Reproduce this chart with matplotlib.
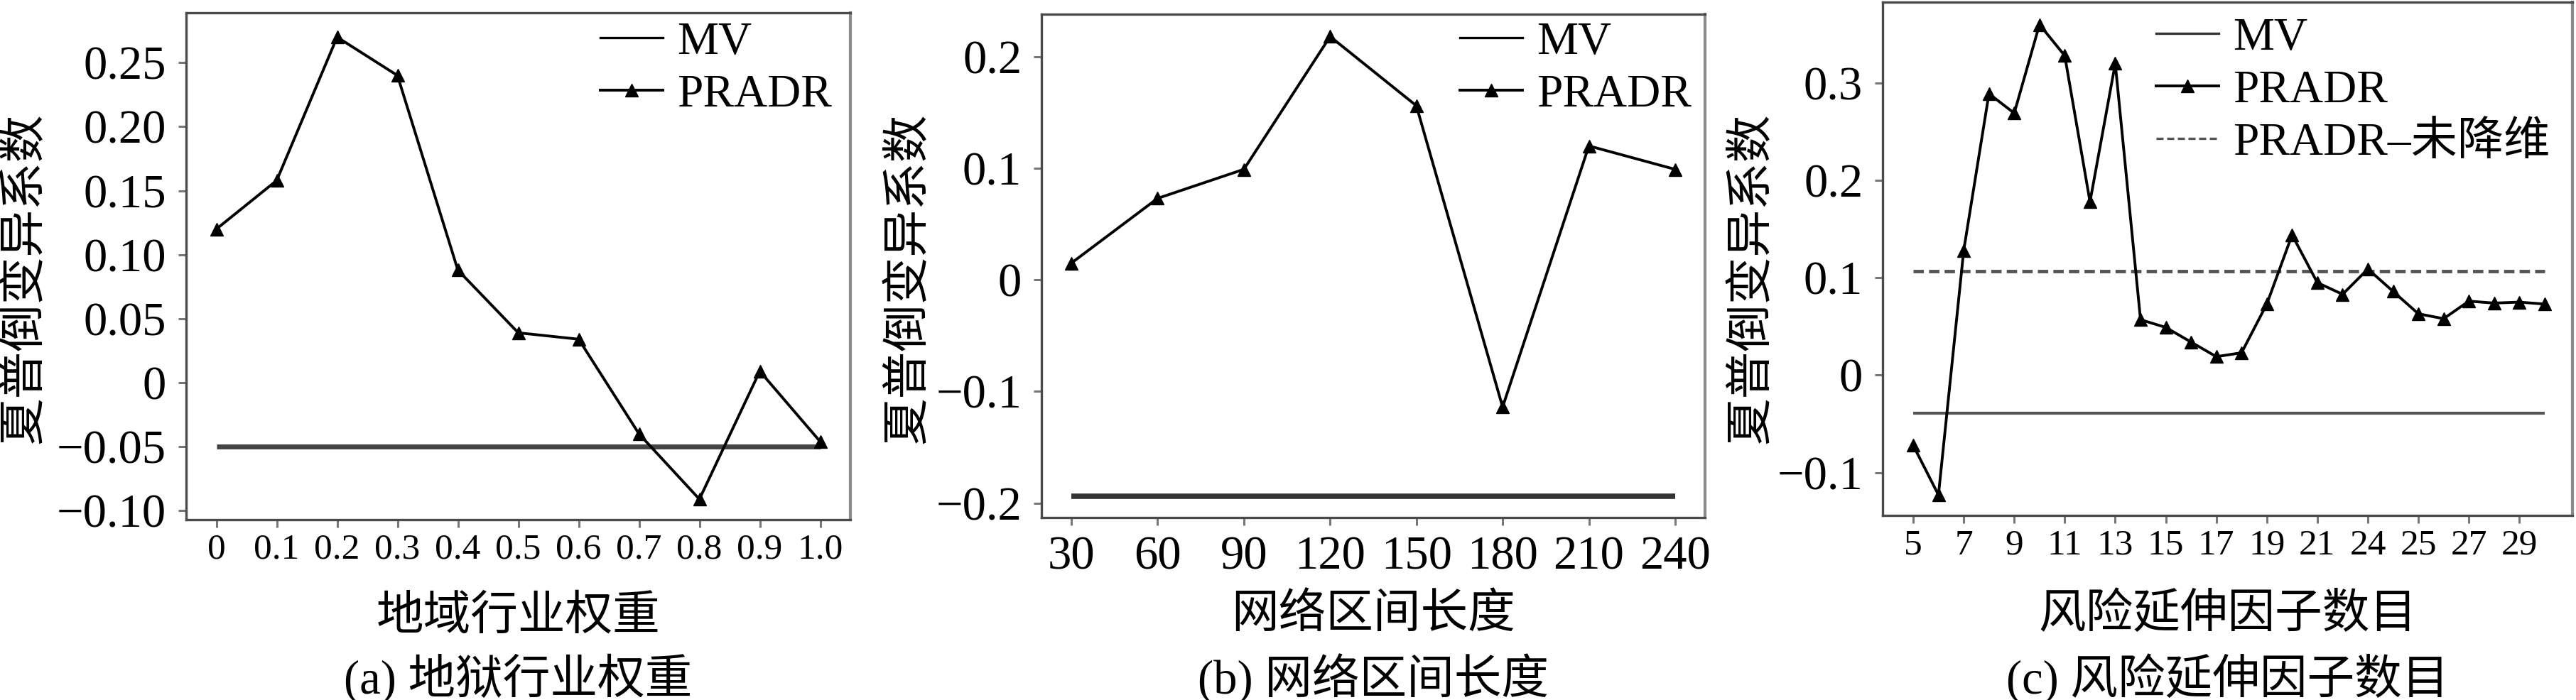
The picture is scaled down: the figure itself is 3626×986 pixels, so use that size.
import numpy as np
import matplotlib
matplotlib.use("Agg")
import matplotlib.pyplot as plt
from matplotlib.lines import Line2D

plt.rcParams['font.family'] = ['Liberation Serif', 'Noto Sans CJK SC', 'DejaVu Sans']
plt.rcParams['axes.unicode_minus'] = True

# ---------------- data ----------------
a_x = [0, 0.1, 0.2, 0.3, 0.4, 0.5, 0.6, 0.7, 0.8, 0.9, 1.0]
a_pradr = [0.12, 0.158, 0.27, 0.24, 0.088, 0.039, 0.034, -0.040, -0.091, 0.009, -0.046]
a_mv = [-0.05] * len(a_x)
a_yticks = [0.25, 0.20, 0.15, 0.10, 0.05, 0, -0.05, -0.10]
a_yticklabels = ['0.25', '0.20', '0.15', '0.10', '0.05', '0', '\u22120.05', '\u22120.10']
a_xticklabels = ['0', '0.1', '0.2', '0.3', '0.4', '0.5', '0.6', '0.7', '0.8', '0.9', '1.0']

b_x = [30, 60, 90, 120, 150, 180, 210, 240]
b_pradr = [0.015, 0.073, 0.099, 0.218, 0.156, -0.114, 0.12, 0.099]
b_mv = [-0.194] * len(b_x)
b_yticks = [0.2, 0.1, 0, -0.1, -0.2]
b_yticklabels = ['0.2', '0.1', '0', '\u22120.1', '\u22120.2']
b_xticklabels = ['30', '60', '90', '120', '150', '180', '210', '240']

c_x = list(range(5, 31))
c_pradr = [-0.072, -0.123, 0.128, 0.289, 0.269, 0.36, 0.328, 0.178, 0.32, 0.057,
           0.049, 0.034, 0.019, 0.023, 0.073, 0.144, 0.095, 0.083, 0.109, 0.086,
           0.063, 0.058, 0.076, 0.074, 0.075, 0.073]
c_mv = [-0.039] * len(c_x)
c_full = [0.107] * len(c_x)
c_yticks = [0.3, 0.2, 0.1, 0, -0.1]
c_yticklabels = ['0.3', '0.2', '0.1', '0', '\u22120.1']
c_xticks = [5, 7, 9, 11, 13, 15, 17, 19, 21, 23, 25, 27, 29]
c_xticklabels = ['5', '7', '9', '11', '13', '15', '17', '19', '21', '24', '25', '27', '29']

ylabel = '夏普倒变异系数'
xlabels = ['地域行业权重', '网络区间长度', '风险延伸因子数目']
captions = ['(a) 地狱行业权重', '(b) 网络区间长度', '(c) 风险延伸因子数目']

# ---------------- figure ----------------
W, H = 3626, 986
fig = plt.figure(figsize=(W / 100, H / 100), dpi=100)

def px_axes(l, t, r, b):
    return fig.add_axes([l / W, 1 - b / H, (r - l) / W, (b - t) / H])

def style(ax):
    for s in ['left', 'bottom', 'top']:
        ax.spines[s].set_color('#4a4a4a')
        ax.spines[s].set_linewidth(2.4)
    ax.spines['right'].set_color('#8a8a8a')
    ax.spines['right'].set_linewidth(3.0)
    ax.tick_params(direction='out', length=8, width=2.2, color='#777777')

def legend(ax, handles, labels, x, y, fs):
    fig.legend(handles, labels, loc='upper left', bbox_to_anchor=(x / W, 1 - y / H),
               bbox_transform=fig.transFigure, frameon=False, fontsize=fs,
               handlelength=1.35, handletextpad=0.3, labelspacing=0.22,
               borderpad=0, borderaxespad=0)

mk = dict(marker='^', markersize=13, color='black', lw=2.8)

# ---- panel a ----
ax = px_axes(262, 18, 1197, 732)
ax.plot(a_x, a_mv, color='#444444', lw=5, solid_capstyle='butt')
ax.plot(a_x, a_pradr, **mk)
ax.set_xlim(-0.05, 1.05)
ax.set_ylim(-0.107, 0.289)
ax.set_yticks(a_yticks)
ax.set_yticklabels(a_yticklabels, fontsize=48)
ax.set_xticks(a_x)
ax.set_xticklabels(a_xticklabels, fontsize=37)
ax.tick_params(axis='y', pad=12)
ax.tick_params(axis='x', pad=6)
style(ax)
fig.text(35 / W, 1 - 392 / H, ylabel, rotation=90, fontsize=48, ha='center', va='center')
fig.text((262 + 1197) / 2 / W, 1 - 870 / H, xlabels[0], fontsize=48, ha='center', va='center')
fig.text((262 + 1197) / 2 / W, 1 - 956 / H, captions[0], fontsize=48, ha='center', va='center')
h = [Line2D([], [], color='black', lw=2.4), Line2D([], [], **mk)]
legend(ax, h, ['MV', 'PRADR'], 845, 30, 47)

# ---- panel b ----
ax = px_axes(1466, 20, 2400, 729)
ax.plot(b_x, b_mv, color='#333333', lw=5.5, solid_capstyle='butt')
ax.plot(b_x, b_pradr, **mk)
ax.set_xlim(19.6, 250.4)
ax.set_ylim(-0.213, 0.238)
ax.set_yticks(b_yticks)
ax.set_yticklabels(b_yticklabels, fontsize=48)
ax.set_xticks(b_x)
ax.set_xticklabels(b_xticklabels, fontsize=48)
ax.tick_params(axis='y', pad=12)
ax.tick_params(axis='x', pad=10)
style(ax)
fig.text(1279 / W, 1 - 392 / H, ylabel, rotation=90, fontsize=48, ha='center', va='center')
fig.text((1466 + 2400) / 2 / W, 1 - 867 / H, xlabels[1], fontsize=48, ha='center', va='center')
fig.text((1466 + 2400) / 2 / W, 1 - 956 / H, captions[1], fontsize=48, ha='center', va='center')
legend(ax, h, ['MV', 'PRADR'], 2055, 30, 47)

# ---- panel c ----
ax = px_axes(2650, 3, 3621, 726)
ax.plot(c_x, c_mv, color='#555555', lw=3, solid_capstyle='butt')
ax.plot(c_x, c_full, color='#555555', lw=3.5, ls=(0, (3, 1.5)))
ax.plot(c_x, c_pradr, **mk)
ax.set_xlim(3.79, 31.1)
ax.set_ylim(-0.144, 0.383)
ax.set_yticks(c_yticks)
ax.set_yticklabels(c_yticklabels, fontsize=48)
ax.set_xticks(c_xticks)
ax.set_xticklabels(c_xticklabels, fontsize=37)
ax.tick_params(axis='y', pad=12)
ax.tick_params(axis='x', pad=6)
style(ax)
fig.text(2466 / W, 1 - 392 / H, ylabel, rotation=90, fontsize=48, ha='center', va='center')
fig.text((2650 + 3621) / 2 / W, 1 - 867 / H, xlabels[2], fontsize=48, ha='center', va='center')
fig.text((2650 + 3621) / 2 / W, 1 - 956 / H, captions[2], fontsize=48, ha='center', va='center')
h3 = [Line2D([], [], color='#333333', lw=2.4), Line2D([], [], **mk),
      Line2D([], [], color='#555555', lw=2.4, ls=(0, (3, 1.5)))]
legend(ax, h3, ['MV', 'PRADR', 'PRADR\u2013未降维'], 3035, 24, 47)

fig.savefig('out.png', dpi=100)
